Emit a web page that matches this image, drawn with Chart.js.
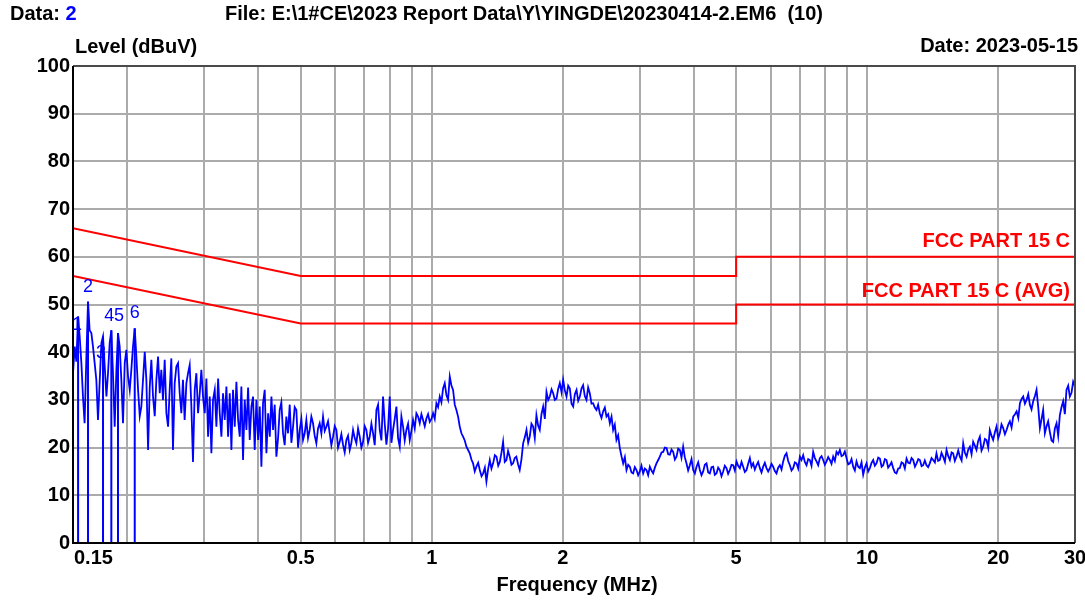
<!DOCTYPE html>
<html>
<head>
<meta charset="utf-8">
<script src="https://cdn.jsdelivr.net/npm/chart.js@4.4.0/dist/chart.umd.min.js"></script>
<style>
  html, body { margin: 0; padding: 0; background: #fff; }
  canvas { display: block; }
</style>
</head>
<body>
<canvas id="emiChart" width="1085" height="601"></canvas>
<script>
// axis
const xGridFreqs = [0.15, 0.2, 0.3, 0.4, 0.5, 0.6, 0.7, 0.8, 0.9, 1, 2, 3, 4, 5, 6, 7, 8, 9, 10, 20, 30];
const xTickLabels = [0.15, 0.5, 1, 2, 5, 10, 20, 30];

// limit lines (MHz / dBuV)
const qpLimitFreq = [0.15, 0.5, 5, 5, 30];
const qpLimitLevel = [66, 56, 56, 60, 60];
const avgLimitFreq = [0.15, 0.5, 5, 5, 30];
const avgLimitLevel = [56, 46, 46, 50, 50];

// peak markers
const markerNames = ['1', '2', '3', '4', '5', '6'];
const markerFreq = [0.1541, 0.1624, 0.1758, 0.1837, 0.1903, 0.2079];
const markerLevel = [47.5, 50.6, 43.3, 44.6, 44.0, 45.0];

// scan trace
const traceFreq = [
  0.1500, 0.1514, 0.1527, 0.1541, 0.1554, 0.1568, 0.1581, 0.1595, 0.1610, 0.1624, 0.1638, 0.1653,
  0.1667, 0.1682, 0.1697, 0.1712, 0.1728, 0.1743, 0.1758, 0.1774, 0.1790, 0.1805, 0.1821, 0.1837,
  0.1853, 0.1870, 0.1887, 0.1903, 0.1920, 0.1937, 0.1954, 0.1972, 0.1989, 0.2007, 0.2025, 0.2042,
  0.2060, 0.2079, 0.2097, 0.2116, 0.2135, 0.2153, 0.2172, 0.2192, 0.2211, 0.2231, 0.2251, 0.2270,
  0.2290, 0.2311, 0.2331, 0.2352, 0.2373, 0.2393, 0.2414, 0.2436, 0.2458, 0.2480, 0.2501, 0.2523,
  0.2545, 0.2568, 0.2591, 0.2614, 0.2637, 0.2660, 0.2683, 0.2707, 0.2732, 0.2756, 0.2780, 0.2805,
  0.2829, 0.2855, 0.2880, 0.2906, 0.2932, 0.2957, 0.2983, 0.3010, 0.3037, 0.3064, 0.3091, 0.3118,
  0.3145, 0.3174, 0.3202, 0.3231, 0.3259, 0.3288, 0.3316, 0.3346, 0.3376, 0.3406, 0.3436, 0.3466,
  0.3496, 0.3528, 0.3559, 0.3591, 0.3623, 0.3654, 0.3686, 0.3719, 0.3753, 0.3786, 0.3819, 0.3853,
  0.3886, 0.3921, 0.3956, 0.3992, 0.4027, 0.4062, 0.4097, 0.4134, 0.4171, 0.4209, 0.4246, 0.4283,
  0.4320, 0.4397, 0.4475, 0.4554, 0.4635, 0.4718, 0.4802, 0.4887, 0.4975, 0.5062, 0.5152, 0.5244,
  0.5337, 0.5432, 0.5529, 0.5627, 0.5727, 0.5829, 0.5933, 0.6039, 0.6146, 0.6255, 0.6366, 0.6480,
  0.6595, 0.6712, 0.6832, 0.6953, 0.7077, 0.7203, 0.7331, 0.7462, 0.7595, 0.7729, 0.7867, 0.8007,
  0.8149, 0.8294, 0.8442, 0.8591, 0.8744, 0.8900, 0.9058, 0.9219, 0.9384, 0.9550, 0.9720, 0.9893,
  1.0069, 1.0248, 1.0431, 1.0616, 1.0805, 1.0998, 1.1192, 1.1391, 1.1594, 1.1800, 1.2010, 1.2224,
  1.244, 1.266, 1.289, 1.312, 1.335, 1.359, 1.383, 1.408, 1.433, 1.458, 1.484, 1.510,
  1.537, 1.564, 1.592, 1.621, 1.650, 1.679, 1.709, 1.739, 1.770, 1.802, 1.834, 1.867,
  1.900, 1.934, 1.968, 2.003, 2.039, 2.075, 2.112, 2.150, 2.188, 2.226, 2.266, 2.306,
  2.347, 2.389, 2.431, 2.475, 2.519, 2.564, 2.609, 2.655, 2.703, 2.751, 2.800, 2.850,
  2.900, 2.952, 3.004, 3.058, 3.112, 3.168, 3.224, 3.281, 3.340, 3.399, 3.460, 3.521,
  3.584, 3.648, 3.713, 3.778, 3.845, 3.914, 3.984, 4.055, 4.127, 4.200, 4.275, 4.351,
  4.428, 4.507, 4.587, 4.668, 4.751, 4.836, 4.922, 5.010, 5.099, 5.189, 5.282, 5.376,
  5.471, 5.568, 5.668, 5.768, 5.871, 5.976, 6.081, 6.189, 6.300, 6.412, 6.526, 6.643,
  6.760, 6.880, 7.003, 7.127, 7.254, 7.383, 7.514, 7.648, 7.784, 7.922, 8.063, 8.207,
  8.352, 8.501, 8.652, 8.806, 8.963, 9.123, 9.284, 9.449, 9.618, 9.788, 9.962, 10.14,
  10.32, 10.50, 10.69, 10.88, 11.07, 11.27, 11.47, 11.67, 11.88, 12.09, 12.31, 12.53,
  12.75, 12.98, 13.21, 13.44, 13.68, 13.92, 14.17, 14.42, 14.68, 14.94, 15.21, 15.48,
  15.75, 16.03, 16.32, 16.61, 16.91, 17.21, 17.51, 17.82, 18.14, 18.46, 18.79, 19.12,
  19.46, 19.81, 20.16, 20.52, 20.89, 21.26, 21.64, 22.03, 22.42, 22.81, 23.22, 23.63,
  24.05, 24.48, 24.92, 25.35, 25.80, 26.26, 26.73, 27.21, 27.69, 28.18, 28.68, 29.19,
  29.71, 30.0
];
const traceLevel = [
  35.6, 41.2, 38.0, 47.5, 43.3, 37.7, 30.7, 25.1, 39.1, 50.6, 44.6, 44.0,
  41.2, 37.7, 34.2, 25.8, 34.2, 41.9, 43.3, 37.0, 30.7, 35.6, 41.9, 44.6,
  35.6, 24.4, 36.3, 44.0, 41.2, 34.2, 25.1, 37.7, 40.5, 34.9, 32.1, 36.3,
  41.2, 45.0, 39.1, 32.1, 26.6, 28.6, 34.2, 40.1, 34.2, 19.5, 32.8, 38.4,
  30.7, 26.6, 34.2, 39.1, 31.4, 36.3, 30.0, 38.4, 27.2, 24.4, 32.1, 38.7,
  19.5, 33.5, 37.0, 37.7, 31.4, 27.2, 34.2, 25.8, 33.5, 35.6, 37.3, 28.6,
  17.0, 32.1, 35.6, 27.2, 31.4, 36.3, 30.7, 27.2, 34.5, 22.3, 30.7, 18.8,
  30.0, 32.1, 24.4, 34.5, 27.2, 22.3, 31.4, 25.8, 32.8, 22.3, 31.4, 19.5,
  32.1, 24.4, 33.8, 25.8, 22.3, 32.8, 17.4, 30.0, 23.7, 32.6, 21.6, 28.6,
  30.7, 19.5, 30.0, 21.6, 28.6, 16.0, 29.3, 32.1, 18.8, 27.2, 22.3, 30.7,
  23.7, 18.1, 27.9, 23.0, 26.5, 29.0, 24.4, 27.9, 23.7, 21.6, 25.8, 23.7,
  25.1, 20.9, 25.1, 26.5, 24.4, 23.0, 22.3, 23.7, 21.2, 20.6, 21.6, 19.5,
  23.7, 20.9, 22.3, 21.2, 23.7, 22.3, 23.0, 27.9, 23.7, 30.7, 20.6, 30.7,
  23.7, 28.6, 20.2, 24.4, 23.7, 21.6, 25.8, 27.2, 25.1, 25.8, 26.1, 25.4,
  27.2, 29.3, 30.7, 32.4, 31.0, 34.9, 32.1, 27.9, 24.4, 22.3, 20.2, 18.8,
  16.7, 16.0, 15.3, 14.6, 12.9, 17.4, 16.7, 18.1, 17.0, 21.2, 17.4, 18.1,
  16.7, 18.1, 15.3, 20.9, 23.7, 22.3, 24.4, 26.8, 23.7, 28.6, 31.7, 30.7,
  31.4, 30.3, 33.5, 34.2, 30.7, 32.4, 28.6, 32.1, 30.7, 33.1, 30.0, 31.4,
  29.3, 27.9, 27.2, 27.6, 26.5, 25.1, 23.7, 21.6, 19.9, 16.7, 15.3, 16.0,
  14.6, 15.3, 15.0, 14.6, 15.3, 16.0, 14.6, 16.7, 18.1, 19.1, 19.9, 18.5,
  19.1, 18.1, 19.5, 20.2, 16.7, 16.3, 15.3, 16.0, 15.3, 15.0, 16.7, 14.6,
  16.0, 14.6, 15.3, 15.0, 15.7, 15.3, 16.3, 17.1, 15.7, 16.0, 15.3, 17.8,
  16.7, 16.3, 15.7, 16.0, 15.7, 15.7, 16.0, 14.6, 16.3, 17.1, 18.8, 16.3,
  15.7, 16.7, 18.1, 18.4, 16.3, 17.4, 19.1, 17.1, 17.8, 17.4, 17.1, 17.4,
  18.1, 19.1, 19.5, 18.4, 17.8, 16.7, 16.0, 17.1, 15.7, 14.3, 16.7, 15.7,
  17.4, 16.7, 17.7, 16.3, 17.4, 16.3, 15.7, 14.6, 15.7, 16.7, 17.7, 16.7,
  17.4, 16.7, 17.4, 16.3, 16.3, 16.7, 17.4, 18.8, 17.4, 18.1, 19.5, 17.4,
  18.8, 18.1, 18.1, 20.9, 18.1, 20.2, 21.2, 19.5, 22.3, 20.2, 21.6, 23.7,
  21.6, 24.4, 23.0, 24.1, 23.7, 25.5, 26.5, 27.6, 29.3, 30.7, 30.0, 29.0,
  29.7, 32.1, 24.1, 27.9, 24.4, 23.3, 21.2, 25.1, 26.8, 29.7, 32.1, 30.7,
  33.8, 32.8
];

// in-between sweep points (the fine spikes between the points above), 0.43 - 30 MHz
const detailFreq = [
  0.4358, 0.4436, 0.4514, 0.4594, 0.4676, 0.4760, 0.4844, 0.4931, 0.5018, 0.5107, 0.5198, 0.5290,
  0.5384, 0.5480, 0.5578, 0.5677, 0.5778, 0.5881, 0.5986, 0.6092, 0.6200, 0.6310, 0.6423, 0.6537,
  0.6653, 0.6772, 0.6892, 0.7015, 0.7140, 0.7267, 0.7396, 0.7528, 0.7662, 0.7798, 0.7937, 0.8078,
  0.8221, 0.8368, 0.8516, 0.8667, 0.8822, 0.8979, 0.9138, 0.9301, 0.9467, 0.9635, 0.9806, 0.9981,
  1.0158, 1.0339, 1.0523, 1.0710, 1.0901, 1.1095, 1.1291, 1.1492, 1.1697, 1.1905, 1.2117, 1.2332,
  1.255, 1.278, 1.301, 1.324, 1.347, 1.371, 1.396, 1.421, 1.446, 1.471, 1.497, 1.524,
  1.551, 1.578, 1.607, 1.636, 1.665, 1.694, 1.724, 1.755, 1.786, 1.818, 1.851, 1.884,
  1.917, 1.951, 1.986, 2.021, 2.057, 2.094, 2.131, 2.169, 2.207, 2.246, 2.286, 2.327,
  2.368, 2.410, 2.453, 2.497, 2.542, 2.587, 2.632, 2.679, 2.727, 2.776, 2.825, 2.875,
  2.926, 2.978, 3.031, 3.085, 3.140, 3.196, 3.253, 3.311, 3.370, 3.430, 3.491, 3.553,
  3.616, 3.680, 3.745, 3.811, 3.879, 3.949, 4.019, 4.091, 4.163, 4.237, 4.313, 4.389,
  4.467, 4.547, 4.627, 4.709, 4.793, 4.879, 4.966, 5.054, 5.144, 5.235, 5.329, 5.423,
  5.519, 5.618, 5.718, 5.819, 5.923, 6.028, 6.135, 6.244, 6.356, 6.469, 6.584, 6.701,
  6.820, 6.941, 7.065, 7.190, 7.318, 7.448, 7.581, 7.716, 7.853, 7.992, 8.135, 8.279,
  8.426, 8.576, 8.729, 8.884, 9.043, 9.203, 9.366, 9.533, 9.703, 9.875, 10.05, 10.23,
  10.41, 10.60, 10.79, 10.98, 11.17, 11.37, 11.57, 11.78, 11.99, 12.20, 12.42, 12.64,
  12.87, 13.10, 13.33, 13.56, 13.80, 14.05, 14.30, 14.55, 14.81, 15.08, 15.35, 15.62,
  15.89, 16.18, 16.47, 16.76, 17.06, 17.36, 17.67, 17.98, 18.30, 18.63, 18.96, 19.29,
  19.64, 19.99, 20.34, 20.71, 21.08, 21.45, 21.84, 22.23, 22.62, 23.02, 23.43, 23.84,
  24.27, 24.70, 25.14, 25.58, 26.03, 26.50, 26.97, 27.45, 27.94, 28.43, 28.94, 29.45
];
const detailLevel = [
  29.0, 22.0, 29.5, 20.5, 23.0, 21.0, 28.5, 20.0, 26.0, 23.0, 22.0, 26.5,
  22.5, 24.0, 23.0, 23.5, 25.5, 20.5, 24.5, 20.0, 22.8, 19.0, 22.5, 21.0,
  22.0, 24.0, 20.0, 24.5, 21.0, 25.0, 20.5, 29.0, 21.5, 25.0, 24.0, 21.0,
  26.0, 22.0, 26.5, 21.5, 25.0, 23.5, 24.0, 26.5, 27.0, 24.5, 27.0, 26.0,
  26.0, 28.5, 29.5, 33.5, 30.0, 33.0, 29.0, 26.5, 23.0, 21.5, 19.5, 17.5,
  15.0, 16.8, 14.0, 15.8, 15.5, 15.6, 18.4, 16.2, 19.0, 17.0, 19.3, 16.4,
  17.8, 16.5, 17.6, 22.2, 21.0, 25.0, 22.0, 24.6, 27.0, 26.0, 30.0, 32.2,
  30.0, 32.3, 31.6, 32.0, 33.0, 29.2, 31.2, 29.8, 32.4, 30.8, 32.6, 29.2,
  28.4, 29.0, 26.2, 28.4, 27.0, 26.5, 24.8, 22.6, 18.2, 18.0, 16.4, 14.8,
  15.9, 14.2, 16.2, 15.6, 14.2, 15.2, 15.8, 17.4, 19.0, 20.0, 18.6, 19.6,
  17.5, 19.8, 17.9, 18.0, 15.2, 17.6, 14.6, 16.9, 14.2, 16.4, 14.8, 15.9,
  14.3, 15.8, 14.0, 16.2, 14.5, 16.4, 15.2, 16.2, 17.0, 14.9, 16.6, 16.0,
  15.4, 17.0, 14.8, 16.8, 15.0, 16.6, 15.1, 15.8, 15.4, 18.3, 17.2, 15.2,
  16.9, 15.6, 17.4, 17.0, 17.6, 16.2, 17.8, 16.3, 18.2, 16.4, 18.0, 16.6,
  17.2, 18.6, 18.2, 19.2, 16.5, 17.6, 15.2, 16.0, 16.9, 15.8, 15.0, 16.8,
  16.2, 17.9, 16.0, 17.6, 15.8, 16.9, 14.8, 15.6, 16.9, 15.6, 16.8, 17.8,
  16.0, 17.6, 16.1, 17.3, 15.9, 17.8, 16.9, 17.2, 18.9, 17.0, 18.2, 19.0,
  17.2, 19.4, 17.3, 18.9, 19.6, 18.6, 20.4, 21.4, 19.4, 21.8, 20.0, 22.5,
  23.2, 22.0, 24.9, 22.8, 24.8, 24.2, 27.0, 26.2, 30.2, 29.2, 31.2, 28.0,
  30.8, 28.5, 26.0, 23.0, 25.5, 21.5, 24.0, 22.5, 28.5, 27.0, 33.0, 31.5
];

const FONT = '"Liberation Sans", Arial, sans-serif';
const markerLabelOffset = [[-1, 9], [0, -15], [-2, 17], [-2, -14], [1, -17], [0, -15]];

const tracePoints = traceFreq.map((f, i) => ({ x: f, y: traceLevel[i] }))
    .concat(detailFreq.map((f, i) => ({ x: f, y: detailLevel[i] })))
    .sort((a, b) => a.x - b.x);
const qpPoints = qpLimitFreq.map((f, i) => ({ x: f, y: qpLimitLevel[i] }));
const avgPoints = avgLimitFreq.map((f, i) => ({ x: f, y: avgLimitLevel[i] }));
const markerLinePoints = [];
markerFreq.forEach((f, i) => {
    markerLinePoints.push({ x: f, y: 0 }, { x: f, y: markerLevel[i] }, { x: f, y: null });
});

function drawText(ctx, s, x, y, font, color, align) {
    ctx.font = font;
    ctx.fillStyle = color;
    ctx.textAlign = align;
    ctx.textBaseline = 'middle';
    ctx.fillText(s, x, y);
}

const decorations = {
    id: 'decorations',
    afterDraw(chart) {
        const ctx = chart.ctx;
        const area = chart.chartArea;
        const xs = chart.scales.x;
        const ys = chart.scales.y;
        ctx.save();

        // plot frame
        ctx.lineWidth = 2;
        ctx.strokeStyle = '#4a4a4a';
        ctx.beginPath();
        ctx.moveTo(area.left, area.top);
        ctx.lineTo(area.right, area.top);
        ctx.lineTo(area.right, area.bottom);
        ctx.stroke();
        ctx.strokeStyle = '#000';
        ctx.beginPath();
        ctx.moveTo(area.left, area.top);
        ctx.lineTo(area.left, area.bottom);
        ctx.lineTo(area.right, area.bottom);
        ctx.stroke();

        const bold = 'bold 20px ' + FONT;

        // header
        drawText(ctx, 'Data:', 10, 14, bold, '#000', 'left');
        const w = ctx.measureText('Data: ').width;
        drawText(ctx, '2', 10 + w, 14, bold, '#0000ff', 'left');
        drawText(ctx, 'File: E:\\1#CE\\2023 Report Data\\Y\\YINGDE\\20230414-2.EM6  (10)', 225, 14, bold, '#000', 'left');
        drawText(ctx, 'Level (dBuV)', 75, 47, bold, '#000', 'left');
        drawText(ctx, 'Date: 2023-05-15', 1078, 46, bold, '#000', 'right');
        drawText(ctx, 'Frequency (MHz)', 577, 585, bold, '#000', 'center');

        // x tick labels
        xTickLabels.forEach((v, i) => {
            const px = xs.getPixelForValue(v);
            drawText(ctx, String(v), i === 0 ? px + 1 : px, 558, bold, '#000', i === 0 ? 'left' : 'center');
        });

        // limit labels
        drawText(ctx, 'FCC PART 15 C', 1070, ys.getPixelForValue(60) - 15, bold, '#ff0000', 'right');
        drawText(ctx, 'FCC PART 15 C (AVG)', 1070, ys.getPixelForValue(50) - 13, bold, '#ff0000', 'right');

        // marker numbers
        markerNames.forEach((name, i) => {
            const px = xs.getPixelForValue(markerFreq[i]) + markerLabelOffset[i][0];
            const py = ys.getPixelForValue(markerLevel[i]) + markerLabelOffset[i][1];
            drawText(ctx, name, px, py, '18px ' + FONT, '#0000ff', 'center');
        });

        ctx.restore();
    }
};

new Chart(document.getElementById('emiChart').getContext('2d'), {
    type: 'line',
    data: {
        datasets: [
            {
                label: 'Trace',
                data: tracePoints,
                borderColor: '#0000ff',
                borderWidth: 1.8,
                pointRadius: 0,
                tension: 0,
                fill: false
            },
            {
                label: 'Markers',
                data: markerLinePoints,
                borderColor: '#0000ff',
                borderWidth: 2,
                pointRadius: 0,
                spanGaps: false,
                fill: false
            },
            {
                label: 'FCC PART 15 C',
                data: qpPoints,
                borderColor: '#ff0000',
                borderWidth: 2,
                pointRadius: 0,
                fill: false
            },
            {
                label: 'FCC PART 15 C (AVG)',
                data: avgPoints,
                borderColor: '#ff0000',
                borderWidth: 2,
                pointRadius: 0,
                fill: false
            }
        ]
    },
    options: {
        responsive: false,
        animation: false,
        devicePixelRatio: 1,
        layout: { padding: { top: 66, right: 10, left: 0, bottom: 0 } },
        plugins: {
            legend: { display: false },
            tooltip: { enabled: false }
        },
        scales: {
            x: {
                type: 'logarithmic',
                min: 0.15,
                max: 30,
                afterBuildTicks: (s) => { s.ticks = xGridFreqs.map(v => ({ value: v })); },
                afterFit: (s) => { s.height = 58; },
                ticks: { display: false },
                grid: { color: '#ababab', lineWidth: 2, drawTicks: false },
                border: { display: false }
            },
            y: {
                min: 0,
                max: 100,
                afterFit: (s) => { s.width = 73; },
                ticks: {
                    stepSize: 10,
                    padding: 3,
                    color: '#000',
                    font: { family: FONT, size: 20, weight: 'bold' }
                },
                grid: { color: '#ababab', lineWidth: 2, drawTicks: false },
                border: { display: false }
            }
        }
    },
    plugins: [decorations]
});
</script>
</body>
</html>
